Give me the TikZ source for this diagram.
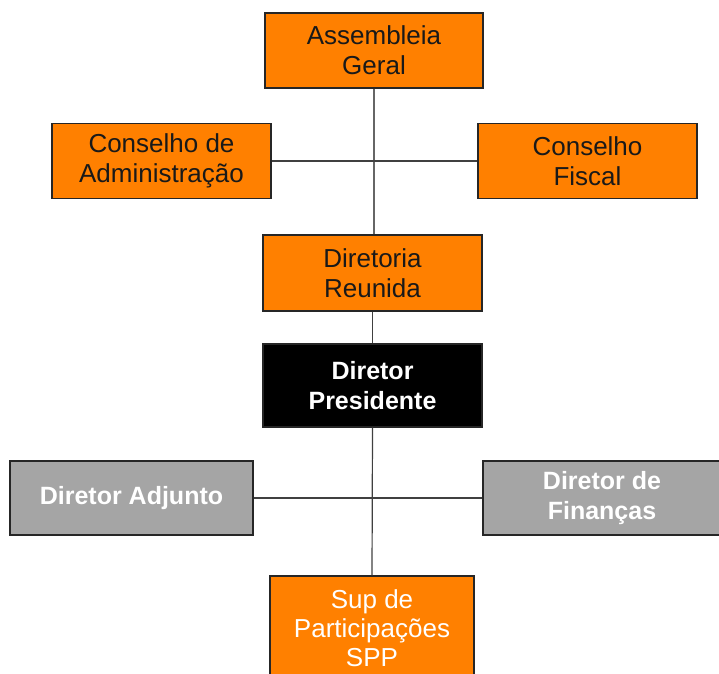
\documentclass[tikz,border=0pt]{standalone}
\usepackage{fontspec}
\setmainfont{Liberation Sans}
\definecolor{boxorange}{HTML}{FF8000}
\definecolor{boxgray}{HTML}{A5A5A5}
\begin{document}
\begin{tikzpicture}[x=1pt,y=-1pt,
  box/.style={draw=black!85, line width=1.2pt, rectangle, align=center, inner sep=0pt,
    font=\fontsize{26}{30}\selectfont},
  obox/.style={box, fill=boxorange, text=black!90},
  wbox/.style={box, fill=boxorange, text=white},
  gbox/.style={box, fill=boxgray, text=white, font=\fontsize{25}{30}\selectfont\bfseries},
  kbox/.style={box, fill=black, text=white, font=\fontsize{25}{30}\selectfont\bfseries},
  conn/.style={draw=black!75, line width=1.2pt}]
\useasboundingbox (0,0) rectangle (719,673);
\node[obox, minimum width=218pt, minimum height=75pt] (ag) at (374,50.5) {Assembleia\\Geral};
\node[obox, minimum width=219pt, minimum height=75pt] (ca) at (161.5,161) {Conselho de\\Administração};
\node[obox, minimum width=219pt, minimum height=75pt] (cf) at (587.5,161) {Conselho\\Fiscal};
\node[obox, minimum width=219pt, minimum height=76pt] (dr) at (372.5,273) {Diretoria\\Reunida};
\node[kbox, minimum width=219pt, minimum height=83pt] (dp) at (372.5,385.5) {Diretor\\Presidente};
\node[gbox, minimum width=243pt, minimum height=74pt] (da) at (131.5,498) {Diretor Adjunto};
\node[gbox, minimum width=238pt, minimum height=74pt] (df) at (602,498) {Diretor de\\Finanças};
\node[wbox, minimum width=204pt, minimum height=104pt, font=\fontsize{26}{29}\selectfont] (sp) at (372,628) {Sup de\\Participações\\SPP};
\draw[conn, draw=black!60] (ag.south) -- (ag.south |- dr.north);
\draw[conn] (ca.east) -- (cf.west);
\draw[conn] (dr.south) -- (dp.north);
\draw[conn] (dp.south) -- (sp.north);
\draw[conn] (da.east) -- (df.west);
\end{tikzpicture}
\end{document}
